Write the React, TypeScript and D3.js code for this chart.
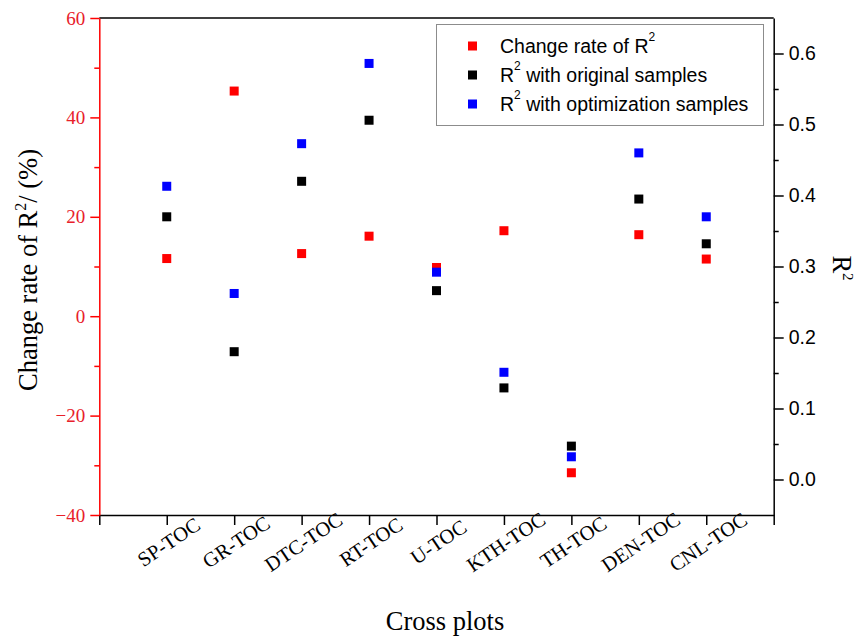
import { useEffect, useRef } from "react";
import * as d3 from "d3";

const categories = ["SP-TOC", "GR-TOC", "DTC-TOC", "RT-TOC", "U-TOC", "KTH-TOC", "TH-TOC", "DEN-TOC", "CNL-TOC"];
const changeRate = [11.6, 45.3, 12.6, 16.1, 9.8, 17.2, -31.5, 16.4, 11.5];
const r2Original = [0.37, 0.18, 0.42, 0.506, 0.266, 0.129, 0.047, 0.395, 0.332];
const r2Optimized = [0.413, 0.262, 0.473, 0.586, 0.292, 0.151, 0.032, 0.46, 0.37];
const leftTicks = [-40, -20, 0, 20, 40, 60];
const leftMinor = [-30, -10, 10, 30, 50];
const rightTicks = [0, 0.1, 0.2, 0.3, 0.4, 0.5, 0.6];
const rightMinor = [0.05, 0.15, 0.25, 0.35, 0.45, 0.55];
const legendItems = [
  { pre: "Change rate of R", sup: "2", post: "", color: "#ff0000" },
  { pre: "R", sup: "2", post: " with original samples", color: "#000000" },
  { pre: "R", sup: "2", post: " with optimization samples", color: "#0000ff" },
];

const SERIF = "'Liberation Serif', 'Times New Roman', serif";
const SANS = "'Liberation Sans', Arial, sans-serif";

export default function App() {
  const svgRef = useRef<SVGSVGElement>(null);

  useEffect(() => {
    const svg = d3.select(svgRef.current);
    svg.selectAll("*").remove();

    const left = 99.3, right = 773.7, top = 18, bottom = 515;
    const size = 9;

    const x = d3.scaleLinear().domain([0, 10]).range([left, right]);
    const yL = d3.scaleLinear().domain([-40, 60]).range([bottom, top]);
    const yR = d3.scaleLinear().domain([-0.05, 0.65]).range([bottom, top]);

    // top border
    svg.append("line").attr("x1", left).attr("x2", right).attr("y1", top).attr("y2", top)
      .attr("stroke", "#000").attr("stroke-width", 1.5);

    // bottom axis
    const gx = svg.append("g").attr("transform", `translate(0,${bottom})`)
      .call(d3.axisBottom(x).tickValues(d3.range(0, 11)).tickSize(10).tickFormat(() => "").tickSizeOuter(0));
    gx.select(".domain").attr("stroke", "#000").attr("stroke-width", 1.5);
    gx.selectAll(".tick line").attr("stroke", "#000").attr("stroke-width", 1.5);

    // x labels, rotated
    svg.append("g").selectAll("text")
      .data(categories)
      .enter()
      .append("text")
      .attr("transform", (d, i) => `translate(${x(i + 1) + 2},${542}) rotate(-34)`)
      .attr("text-anchor", "middle")
      .attr("dominant-baseline", "central")
      .attr("font-family", SERIF)
      .attr("font-size", 20.5)
      .attr("fill", "#000")
      .text(d => d);

    // right axis
    const gr = svg.append("g").attr("transform", `translate(${right},0)`)
      .call(d3.axisRight(yR).tickValues(rightTicks).tickSize(10).tickPadding(5).tickSizeOuter(0)
        .tickFormat(d3.format(".1f")));
    gr.select(".domain").attr("stroke", "#000").attr("stroke-width", 1.5);
    gr.selectAll(".tick line").attr("stroke", "#000").attr("stroke-width", 1.5);
    gr.selectAll(".tick text").attr("font-family", SANS).attr("font-size", 19.5).attr("fill", "#000");
    const grm = svg.append("g").attr("transform", `translate(${right},0)`)
      .call(d3.axisRight(yR).tickValues(rightMinor).tickSize(5).tickFormat(() => "").tickSizeOuter(0));
    grm.select(".domain").remove();
    grm.selectAll(".tick line").attr("stroke", "#000").attr("stroke-width", 1.5);

    // left axis (red)
    const gl = svg.append("g").attr("transform", `translate(${left},0)`)
      .call(d3.axisLeft(yL).tickValues(leftTicks).tickSize(9).tickPadding(5).tickSizeOuter(0));
    gl.select(".domain").attr("stroke", "#ff0000").attr("stroke-width", 1.5);
    gl.selectAll(".tick line").attr("stroke", "#ff0000").attr("stroke-width", 1.5);
    gl.selectAll(".tick text").attr("font-family", SERIF).attr("font-size", 19).attr("fill", "#e8202a");
    const glm = svg.append("g").attr("transform", `translate(${left},0)`)
      .call(d3.axisLeft(yL).tickValues(leftMinor).tickSize(5).tickFormat(() => "").tickSizeOuter(0));
    glm.select(".domain").remove();
    glm.selectAll(".tick line").attr("stroke", "#ff0000").attr("stroke-width", 1.5);

    // points
    const pts = svg.append("g");
    pts.selectAll("rect.red").data(changeRate).enter().append("rect")
      .attr("x", (d, i) => x(i + 1) - size / 2).attr("y", d => yL(d) - size / 2)
      .attr("width", size).attr("height", size).attr("fill", "#ff0000");
    pts.selectAll("rect.black").data(r2Original).enter().append("rect")
      .attr("x", (d, i) => x(i + 1) - size / 2).attr("y", d => yR(d) - size / 2)
      .attr("width", size).attr("height", size).attr("fill", "#000000");
    pts.selectAll("rect.blue").data(r2Optimized).enter().append("rect")
      .attr("x", (d, i) => x(i + 1) - size / 2).attr("y", d => yR(d) - size / 2)
      .attr("width", size).attr("height", size).attr("fill", "#0000ff");

    // legend
    const lg = svg.append("g");
    lg.append("rect").attr("x", 436.5).attr("y", 24.5).attr("width", 327).attr("height", 101)
      .attr("fill", "#fff").attr("stroke", "#8c8c8c").attr("stroke-width", 1);
    const rows = lg.selectAll("g.row").data(legendItems).enter().append("g")
      .attr("transform", (d, i) => `translate(0,${46 + i * 29})`);
    rows.append("rect").attr("x", 468).attr("y", -4.5).attr("width", size).attr("height", size)
      .attr("fill", d => d.color);
    const t = rows.append("text").attr("x", 500).attr("y", 0).attr("dominant-baseline", "central")
      .attr("font-family", SANS).attr("font-size", 19.5).attr("fill", "#000");
    t.append("tspan").text(d => d.pre);
    t.append("tspan").attr("font-size", 12).attr("dy", -9).text(d => d.sup);
    t.append("tspan").attr("dy", 9).text(d => d.post);

    // axis titles
    const yt = svg.append("text").attr("transform", "translate(37,270) rotate(-90)")
      .attr("text-anchor", "middle").attr("font-family", SERIF).attr("font-size", 26.5).attr("fill", "#000");
    yt.append("tspan").text("Change rate of R");
    yt.append("tspan").attr("font-size", 16).attr("dy", -11).text("2");
    yt.append("tspan").attr("dy", 11).text("/ (%)");

    const rt = svg.append("text").attr("transform", "translate(833,268) rotate(90)")
      .attr("text-anchor", "middle").attr("font-family", SERIF).attr("font-size", 26.5).attr("fill", "#000");
    rt.append("tspan").text("R");
    rt.append("tspan").attr("font-size", 15).attr("dy", -10).text("2");

    svg.append("text").attr("x", 445).attr("y", 630).attr("text-anchor", "middle")
      .attr("font-family", SERIF).attr("font-size", 26.5).attr("fill", "#000").text("Cross plots");
  }, []);

  return (
    <svg ref={svgRef} width={861} height={637}
      style={{ position: "absolute", left: 0, top: 0, background: "#fff" }} />
  );
}
